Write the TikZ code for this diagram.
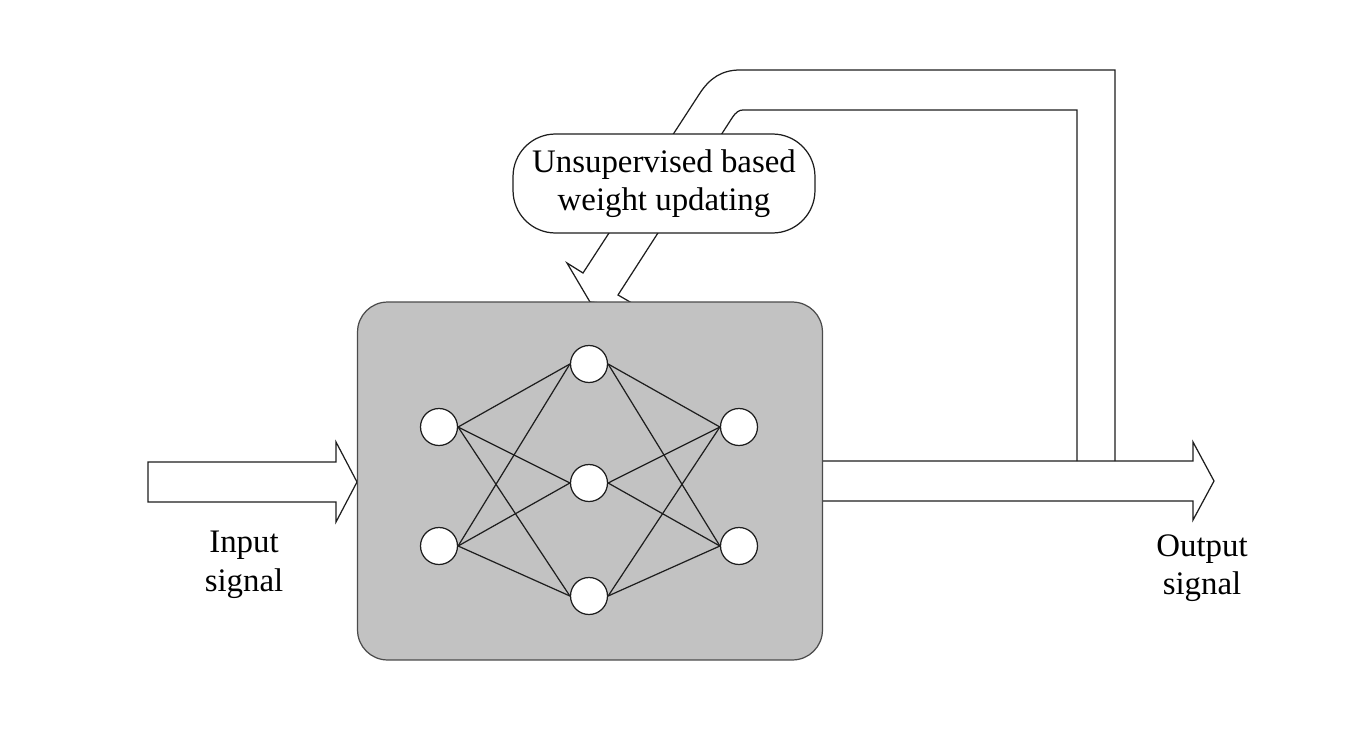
\documentclass[tikz,border=0pt]{standalone}
\usepackage{fontspec}
\setmainfont{Liberation Serif}
\definecolor{boxgray}{RGB}{194,194,194}
\definecolor{ink}{RGB}{30,30,30}
\begin{document}
\begin{tikzpicture}[x=0.02cm,y=-0.02cm,line join=miter,
  lbl/.style={align=center,font=\fontsize{18.7}{22}\selectfont,inner sep=0pt},
  sigarrow/.style={draw=ink,line width=0.7pt,fill=white},
  netbox/.style={draw=ink!80,line width=0.7pt,fill=boxgray,rounded corners=0.6cm,
     minimum width=9.3cm,minimum height=7.16cm,inner sep=0pt},
  bubble/.style={draw=ink,line width=0.7pt,fill=white,rounded corners=0.85cm,
     minimum width=6.04cm,minimum height=1.98cm,align=center,
     font=\fontsize{18.7}{22}\selectfont,inner sep=0pt},
  neuron/.style={circle,draw=ink,line width=0.7pt,fill=white,minimum size=0.74cm,inner sep=0pt},
  syn/.style={draw=ink,line width=0.7pt}]
\useasboundingbox[fill=white] (0,0) rectangle (1372,740);

% feedback block arrow
\draw[sigarrow,fill=none] (1115,461) -- (1115,70) -- (740,70)
  .. controls (722,70) and (710,78) .. (700,93) -- (583,273) -- (567,263)
  -- (590,302) -- (637,306) -- (618,295) -- (732,118)
  .. controls (736,112) and (739,110) .. (743,110) -- (1077,110) -- (1077,461);

% input and output block arrows
\draw[sigarrow] (148,462) -- (336,462) -- (336,442) -- (357,482) -- (336,522)
  -- (336,502) -- (148,502) -- cycle;
\draw[sigarrow,fill=none] (822,461) -- (1193,461) -- (1193,442) -- (1214,481)
  -- (1193,520) -- (1193,501) -- (822,501);

% label bubble
\node[bubble] (upd) at (664,183.5) {Unsupervised based\\weight updating};

% network box
\node[netbox] (box) at (590,481) {};

% neurons
\node[neuron] (i1) at (439,427) {};
\node[neuron] (i2) at (439,546) {};
\node[neuron] (h1) at (589,364) {};
\node[neuron] (h2) at (589,483) {};
\node[neuron] (h3) at (589,596) {};
\node[neuron] (o1) at (739,427) {};
\node[neuron] (o2) at (739,546) {};

\foreach \a in {i1,i2}
  \foreach \b in {h1,h2,h3}
    \draw[syn] (\a.east) -- (\b.west);
\foreach \a in {h1,h2,h3}
  \foreach \b in {o1,o2}
    \draw[syn] (\a.east) -- (\b.west);

% labels
\node[lbl] (inlbl) at (244,565) {Input\\signal};
\node[lbl] (outlbl) at (1202,568) {Output\\signal};
\end{tikzpicture}
\end{document}
